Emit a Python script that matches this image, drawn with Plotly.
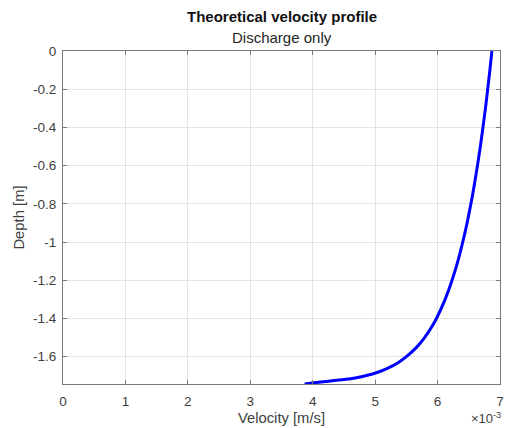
import plotly.graph_objects as go

# Theoretical velocity profile (discharge only)
depth_m = [0.0, -0.1, -0.2, -0.3, -0.4, -0.5, -0.6, -0.7, -0.8, -0.9,
           -1.0, -1.1, -1.2, -1.3, -1.4, -1.45, -1.5, -1.55, -1.6,
           -1.63, -1.66, -1.68, -1.70, -1.71, -1.72, -1.73, -1.737, -1.743]
velocity_mm_s = [6.870, 6.838, 6.803, 6.767, 6.727, 6.685, 6.639, 6.589, 6.534, 6.473,
                 6.403, 6.325, 6.232, 6.121, 5.982, 5.895, 5.792, 5.666, 5.500,
                 5.373, 5.204, 5.054, 4.845, 4.700, 4.500, 4.210, 4.020, 3.870]
velocity_m_s = [v * 1e-3 for v in velocity_mm_s]

x_tick_vals = [i * 1e-3 for i in range(8)]
x_tick_text = ["0", "1", "2", "3", "4", "5", "6", "7"]
y_tick_vals = [0, -0.2, -0.4, -0.6, -0.8, -1.0, -1.2, -1.4, -1.6]
y_tick_text = ["0", "-0.2", "-0.4", "-0.6", "-0.8", "-1", "-1.2", "-1.4", "-1.6"]

FONT = "Liberation Sans, Arial, Helvetica, sans-serif"
TXT = "#404040"
AXIS = "#7a7a7a"
GRID = "#e3e3e3"

fig = go.Figure()
fig.add_trace(go.Scatter(
    x=velocity_m_s, y=depth_m, mode="lines",
    line=dict(color="#0000ff", width=3, shape="spline", smoothing=1),
    showlegend=False,
))

axis_common = dict(
    showline=True, linecolor=AXIS, linewidth=1, mirror="allticks",
    ticks="inside", ticklen=4, tickcolor=AXIS,
    showgrid=True, gridcolor=GRID, gridwidth=1, zeroline=False,
    tickfont=dict(family=FONT, size=13.5, color=TXT),
)

fig.update_xaxes(
    range=[0, 7e-3], tickvals=x_tick_vals, ticktext=x_tick_text,
    title=dict(text="Velocity [m/s]", font=dict(family=FONT, size=14.8, color=TXT), standoff=4),
    ticklabelstandoff=5,
    **axis_common,
)
fig.update_yaxes(
    range=[-1.743, 0], tickvals=y_tick_vals, ticktext=y_tick_text,
    title=dict(text="Depth [m]", font=dict(family=FONT, size=14.8, color=TXT), standoff=4),
    ticklabelstandoff=3,
    **axis_common,
)

fig.add_annotation(
    text="Theoretical velocity profile", x=0.5, y=1, xref="paper", yref="paper",
    yshift=24, showarrow=False, xanchor="center", yanchor="bottom",
    font=dict(family=FONT, size=15, color="#111111", weight="bold"),
)
fig.add_annotation(
    text="Discharge only", x=0.5, y=1, xref="paper", yref="paper",
    yshift=3, showarrow=False, xanchor="center", yanchor="bottom",
    font=dict(family=FONT, size=15, color="#262626"),
)
fig.add_annotation(
    text="×10<sup>-3</sup>", x=1, y=0, xref="paper", yref="paper",
    yshift=-44, xshift=3, showarrow=False, xanchor="right", yanchor="bottom",
    font=dict(family=FONT, size=13, color=TXT),
)

fig.update_layout(
    width=508, height=428,
    margin=dict(l=63, r=4, t=51, b=44),
    paper_bgcolor="white", plot_bgcolor="white",
)

fig.write_html("out.html")
